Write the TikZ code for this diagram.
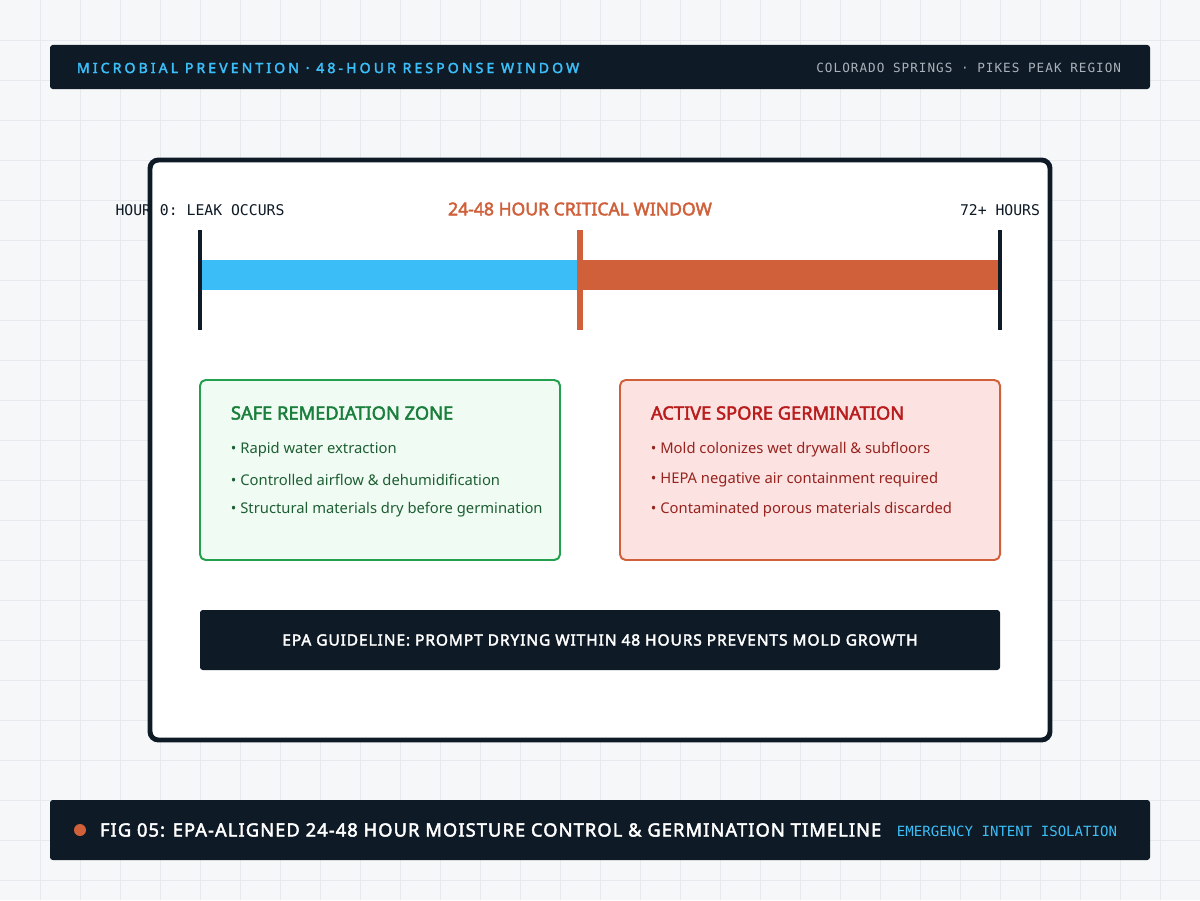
\documentclass[tikz,border=0pt]{standalone}
\usepackage{fontspec}
\setmainfont{Noto Sans}[BoldFont={Noto Sans},BoldFeatures={FakeBold=2.5}]
\setmonofont{DejaVu Sans Mono}
\newfontfamily\trackedfont{Noto Sans}[LetterSpace=22,BoldFont={Noto Sans},BoldFeatures={FakeBold=2.5}]
\newfontfamily\footfont{Noto Sans}[LetterSpace=6,BoldFont={Noto Sans},BoldFeatures={FakeBold=2.5}]
\newfontfamily\trackedmono{DejaVu Sans Mono}[LetterSpace=8]
\usetikzlibrary{positioning}
\definecolor{ink}{HTML}{0E1A25}
\definecolor{sky}{HTML}{3BBEF8}
\definecolor{rust}{HTML}{D0603A}
\definecolor{gridc}{HTML}{E6EAEE}
\definecolor{bgc}{HTML}{F5F7F9}
\definecolor{safefill}{HTML}{F0FCF3}
\definecolor{safeline}{HTML}{22A04E}
\definecolor{safetext}{HTML}{1A7F3C}
\definecolor{safebody}{HTML}{1E5E33}
\definecolor{riskfill}{HTML}{FDE2E2}
\definecolor{risktext}{HTML}{B91C1C}
\definecolor{riskbody}{HTML}{96231E}
\definecolor{greytext}{HTML}{A9B2BB}

\begin{document}
\begin{tikzpicture}[x=0.025cm,y=-0.025cm,
    bar/.style={fill=ink, rounded corners=2pt},
    zone/.style={rounded corners=4pt, line width=1.4pt},
    tick/.style={line width=2.2pt},
    bullet/.style={anchor=west, font=\fontsize{10.5}{12}\selectfont},
    zonetitle/.style={anchor=west, font=\fontsize{13}{15}\selectfont\bfseries}]
    \useasboundingbox (0,0) rectangle (1200,900);
    \fill[bgc] (0,0) rectangle (1200,900);
    % background grid
    \foreach \g in {40,80,...,1160} \draw[gridc, line width=0.4pt] (\g,0) -- (\g,900);
    \foreach \g in {40,80,...,880} \draw[gridc, line width=0.4pt] (0,\g) -- (1200,\g);

    % header
    \fill[bar] (50,45) rectangle (1150,89);
    \node[anchor=west, text=sky, font=\trackedfont\fontsize{10}{12}\selectfont\bfseries] (head) at (72,68) {MICROBIAL PREVENTION · 48-HOUR RESPONSE WINDOW};
    \node[anchor=east, text=greytext, font=\trackedmono\fontsize{9}{11}\selectfont] (region) at (1126,68) {COLORADO SPRINGS · PIKES PEAK REGION};

    % main panel
    \draw[fill=white, draw=ink, line width=3.5pt, rounded corners=6pt] (150,160) rectangle (1050,740);

    % timeline
    \fill[sky] (200,260) rectangle (578,290);
    \fill[rust] (578,260) rectangle (998,290);
    \coordinate (t0a) at (200,230); \coordinate (t0b) at (200,330);
    \coordinate (t1a) at (580,230); \coordinate (t1b) at (580,330);
    \coordinate (t2a) at (1000,230); \coordinate (t2b) at (1000,330);
    \draw[tick, ink] (t0a) -- (t0b);
    \draw[line width=4.5pt, rust] (t1a) -- (t1b);
    \draw[tick, ink] (t2a) -- (t2b);
    \node[text=ink, font=\ttfamily\fontsize{10.5}{12}\selectfont] (start) at (200,210) {HOUR 0: LEAK OCCURS};
    \node[text=rust, font=\fontsize{12.5}{14}\selectfont\bfseries] (window) at (580,209) {24-48 HOUR CRITICAL WINDOW};
    \node[text=ink, font=\ttfamily\fontsize{10.5}{12}\selectfont] (end) at (1000,210) {72+ HOURS};

    % safe zone
    \draw[zone, fill=safefill, draw=safeline] (200,380) rectangle (560,560);
    \node[zonetitle, text=safetext] (safe) at (226,413) {SAFE REMEDIATION ZONE};
    \node[bullet, text=safebody] (s1) at (226,450) {• Rapid water extraction};
    \node[bullet, text=safebody] (s2) at (226,480) {• Controlled airflow \& dehumidification};
    \node[bullet, text=safebody] (s3) at (226,510) {• Structural materials dry before germination};

    % risk zone
    \draw[zone, fill=riskfill, draw=rust] (620,380) rectangle (1000,560);
    \node[zonetitle, text=risktext] (risk) at (646,413) {ACTIVE SPORE GERMINATION};
    \node[bullet, text=riskbody] (r1) at (646,450) {• Mold colonizes wet drywall \& subfloors};
    \node[bullet, text=riskbody] (r2) at (646,480) {• HEPA negative air containment required};
    \node[bullet, text=riskbody] (r3) at (646,510) {• Contaminated porous materials discarded};

    % guideline
    \fill[bar] (200,610) rectangle (1000,670);
    \node[text=white, font=\footfont\fontsize{11}{13}\selectfont\bfseries] (epa) at (600,640) {EPA GUIDELINE: PROMPT DRYING WITHIN 48 HOURS PREVENTS MOLD GROWTH};

    % footer
    \fill[bar] (50,800) rectangle (1150,860);
    \fill[rust] (80,830) circle (6);
    \node[anchor=west, text=white, font=\footfont\fontsize{13}{15}\selectfont\bfseries] (fig) at (95,830) {FIG 05: EPA-ALIGNED 24-48 HOUR MOISTURE CONTROL \& GERMINATION TIMELINE};
    \node[anchor=east, text=sky, font=\ttfamily\fontsize{10}{12}\selectfont] (tag) at (1122,831) {EMERGENCY INTENT ISOLATION};
\end{tikzpicture}
\end{document}
